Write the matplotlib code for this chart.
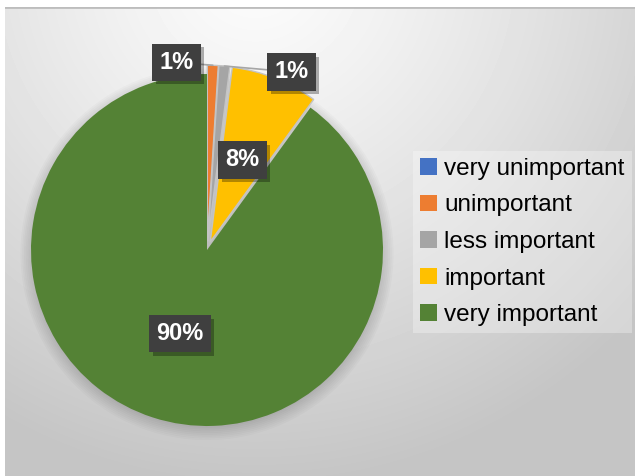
import numpy as np
import matplotlib
matplotlib.use('Agg')
import matplotlib.pyplot as plt
import matplotlib.patheffects as pe
from matplotlib.patches import Circle, Patch

plt.rcParams['font.family'] = ['Liberation Sans', 'DejaVu Sans']

# Survey answers (percent)
categories = ['very unimportant', 'unimportant', 'less important', 'important', 'very important']
shares = [0, 1, 1, 8, 90]
colors = ['#4472C4', '#ED7D31', '#A5A5A5', '#FFC000', '#548235']
explode = [0, 0.05, 0.05, 0.05, 0]

# where each percentage box goes: distance from centre and turn (deg) off the wedge middle
label_dist = [None, 1.08, 1.12, 0.5, 0.5]
label_turn = [0, 11, -20, 0, 0]
label_outside = [False, True, True, False, False]

W, H = 635, 476


def drawBackground(fig):
	bg = fig.add_axes([5 / W, 0, 630 / W, 469 / H])
	h, w = 469, 630
	yy, xx = np.mgrid[0:h, 0:w]
	d = np.hypot(xx - 250, yy + 40)
	shade = np.clip(0.99 - 0.2 * (d / 480) ** 1.2, 0.77, 1)
	bg.imshow(shade, cmap='gray', vmin=0, vmax=1, aspect='auto', extent=[0, w, h, 0])
	bg.axhline(0, color='#bdbdbd', lw=2)
	bg.set_axis_off()


def drawPie(fig):
	R = 176
	lim = 1.15
	side = 2 * lim * R
	cx, cy = 207, 250
	ax = fig.add_axes([(cx - side / 2) / W, (H - cy - side / 2) / H, side / W, side / H])

	# soft shadow under the pie
	for k in range(8):
		ax.add_patch(Circle((0.0, -0.02), 0.99 + 0.01 * k, color='black', alpha=0.018, lw=0, zorder=0))

	wedges, _ = ax.pie(shares, colors=colors, explode=explode, startangle=90,
		counterclock=False, wedgeprops=dict(linewidth=0))
	for i, w in enumerate(wedges):
		w.set_zorder(2)
		if explode[i] > 0:
			w.set_edgecolor('#c4c4c4')
			w.set_linewidth(1.0)

	for i, w in enumerate(wedges):
		if shares[i] == 0:
			continue
		mid = np.deg2rad((w.theta1 + w.theta2) / 2)
		wx, wy = w.center
		text = '%d%%' % shares[i]
		box = dict(boxstyle='square,pad=0.3', fc='#3f3f3f', ec='none')
		if label_outside[i]:
			ang = mid + np.deg2rad(label_turn[i])
			tx, ty = label_dist[i] * np.cos(ang), label_dist[i] * np.sin(ang)
			tip = (wx + np.cos(mid), wy + np.sin(mid))
			t = ax.annotate(text, xy=tip, xytext=(tx, ty), ha='center', va='center',
				fontsize=17, fontweight='bold', color='white', bbox=box, zorder=5,
				arrowprops=dict(arrowstyle='-', color='#a6a6a6', lw=1.2, shrinkA=0, shrinkB=0))
		else:
			tx = wx + label_dist[i] * np.cos(mid)
			ty = wy + label_dist[i] * np.sin(mid)
			t = ax.text(tx, ty, text, ha='center', va='center', fontsize=17,
				fontweight='bold', color='white', bbox=box, zorder=5)
		t.get_bbox_patch().set_path_effects([
			pe.SimplePatchShadow(offset=(2.5, -2.5), shadow_rgbFace='black', alpha=0.3), pe.Normal()])

	ax.set_xlim(-lim, lim)
	ax.set_ylim(-lim, lim)
	ax.set_aspect('equal')
	ax.set_axis_off()


def drawLegend(fig):
	handles = [Patch(facecolor=c, edgecolor='none') for c in colors]
	leg = fig.legend(handles, categories, loc='center left', bbox_to_anchor=(413 / W, 1 - 242 / H),
		fontsize=17.5, frameon=True, handlelength=0.68, handleheight=0.68, handletextpad=0.3,
		labelspacing=0.6, borderpad=0.3, borderaxespad=0, fancybox=False)
	frame = leg.get_frame()
	frame.set_facecolor('white')
	frame.set_alpha(0.3)
	frame.set_edgecolor('none')


def main() -> None:
	fig = plt.figure(figsize=(W / 100, H / 100), dpi=100)
	fig.patch.set_facecolor('white')
	drawBackground(fig)
	drawPie(fig)
	drawLegend(fig)
	fig.savefig('out.png', dpi=100)


if __name__ == '__main__':
	main()
